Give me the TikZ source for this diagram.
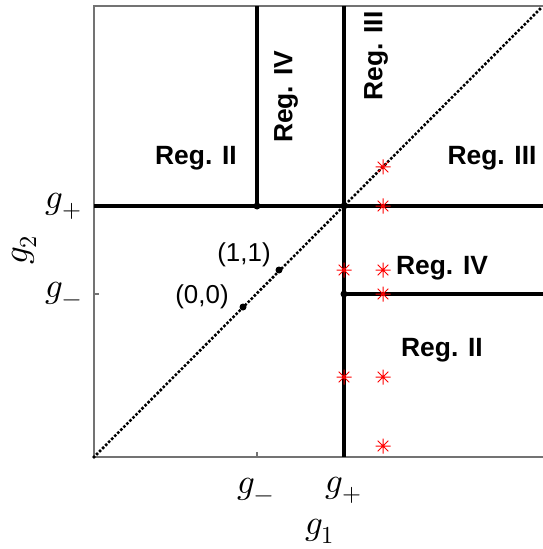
\documentclass[tikz,border=0pt]{standalone}
\usepackage{fontspec}
\setsansfont{Liberation Sans}
\usepackage{unicode-math}
\begin{document}
\begin{tikzpicture}[x=1bp,y=-1bp,
  axisline/.style={draw=black!55,line width=1.5bp},
  regline/.style={draw=black,line width=3.2bp},
  diag/.style={draw=black,line width=3.6bp,line cap=round,dash pattern=on 0bp off 4.3bp},
  dotpt/.style={circle,fill=black,inner sep=0pt,minimum size=7bp},
  reglabel/.style={font=\sffamily\bfseries\fontsize{26.5}{30}\selectfont,inner sep=0pt},
  ptlabel/.style={font=\sffamily\fontsize{26}{30}\selectfont,inner sep=0pt},
  mathlabel/.style={font=\fontsize{35}{40}\selectfont,inner sep=0pt},
  starpt/.style={inner sep=0pt,minimum size=0pt}
]
\useasboundingbox (0,0) rectangle (543,549);
% coordinates
\coordinate (O) at (94,457);
\coordinate (TL) at (94,6);
\coordinate (TR) at (543,6);
\coordinate (BR) at (543,457);
\coordinate (DE) at (543,6);
\coordinate (A) at (257,206);
\coordinate (B) at (344,206);
\coordinate (C) at (344,294);
\coordinate (At) at (257,6);
\coordinate (Bt) at (344,6);
\coordinate (Bb) at (344,457);
\coordinate (Lp) at (94,206);
\coordinate (Rp) at (543,206);
\coordinate (Rm) at (543,294);
% axes box
\draw[axisline] (TR) -- (TL) -- (O) -- (BR);
% ticks
\draw[axisline] (94,294) -- (99,294);
\draw[axisline] (257,457) -- (257,452);
% region lines
\draw[regline] (Lp) -- (Rp);
\draw[regline] (A) -- (At);
\draw[regline] (Bt) -- (Bb);
\draw[regline] (C) -- (Rm);
% diagonal
\draw[diag] (O) -- (DE);
% dots
\node[dotpt] (dA) at (A) {};
\node[dotpt] (dB) at (B) {};
\node[dotpt] (dC) at (C) {};
\node[dotpt] (d00) at (243,307) {};
\node[dotpt] (d11) at (279,270) {};
% stars
\foreach \n/\px/\py in {s1/383/167,s2/383/206,s3/344/270,s4/383/270,s5/383/294,s6/344/377,s7/383/377,s8/383/446}{
  \node[starpt] (\n) at (\px,\py) {};
  \draw[red,line width=1bp] (\px-7.5,\py) -- (\px+7.5,\py) (\px,\py-7.5) -- (\px,\py+7.5)
    (\px-5.3,\py-5.3) -- (\px+5.3,\py+5.3) (\px-5.3,\py+5.3) -- (\px+5.3,\py-5.3);
}
% region labels
\node[reglabel] (r2a) at (196,158) {Reg. II};
\node[reglabel,rotate=90] (r4a) at (286,97) {Reg. IV};
\node[reglabel,rotate=90] (r3a) at (376,56) {Reg. III};
\node[reglabel] (r3b) at (492,158) {Reg. III};
\node[reglabel] (r4b) at (442,268) {Reg. IV};
\node[reglabel] (r2b) at (442,350) {Reg. II};
% point labels
\node[ptlabel] (l11) at (244,255) {(1,1)};
\node[ptlabel] (l00) at (202,297) {(0,0)};
% tick labels
\node[mathlabel] (xm) at (256,490) {$g_-$};
\node[mathlabel] (xp) at (344,490) {$g_+$};
\node[mathlabel] (yp) at (64,206) {$g_+$};
\node[mathlabel] (ym) at (64,294) {$g_-$};
\node[mathlabel] (x1) at (320,531) {$g_1$};
\node[mathlabel,rotate=90] (y2) at (24,250) {$g_2$};
\end{tikzpicture}
\end{document}
